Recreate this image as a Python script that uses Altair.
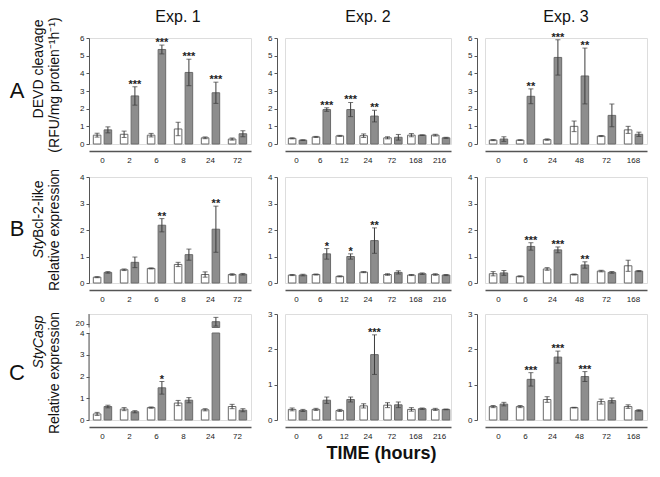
import altair as alt
import pandas as pd

FONT = "Liberation Sans"

# ---------------- data ----------------
# Row A : DEVD cleavage
A1_times = ["0", "2", "6", "8", "24", "72"]
A1_ctrl = [0.5, 0.55, 0.5, 0.85, 0.35, 0.28]
A1_ctrl_se = [0.11, 0.18, 0.1, 0.38, 0.05, 0.06]
A1_trt = [0.8, 2.72, 5.35, 4.05, 2.9, 0.58]
A1_trt_se = [0.17, 0.52, 0.25, 0.75, 0.6, 0.17]
A1_stars = ["", "***", "***", "***", "***", ""]

A2_times = ["0", "6", "12", "24", "72", "168", "216"]
A2_ctrl = [0.32, 0.4, 0.46, 0.47, 0.35, 0.5, 0.5]
A2_ctrl_se = [0.03, 0.03, 0.03, 0.1, 0.06, 0.09, 0.05]
A2_trt = [0.22, 1.95, 1.95, 1.58, 0.38, 0.5, 0.35]
A2_trt_se = [0.02, 0.1, 0.4, 0.33, 0.16, 0.02, 0.03]
A2_stars = ["", "***", "***", "**", "", "", ""]

A3_times = ["0", "6", "24", "48", "72", "168"]
A3_ctrl = [0.22, 0.22, 0.25, 1.0, 0.45, 0.8]
A3_ctrl_se = [0.03, 0.02, 0.04, 0.3, 0.03, 0.2]
A3_trt = [0.28, 2.7, 4.9, 3.85, 1.62, 0.55]
A3_trt_se = [0.13, 0.42, 1.0, 1.58, 0.64, 0.12]
A3_stars = ["", "**", "***", "**", "", ""]

# Row B : StyBcl-2-like
B1_times = ["0", "2", "6", "8", "24", "72"]
B1_ctrl = [0.22, 0.5, 0.55, 0.7, 0.32, 0.32]
B1_ctrl_se = [0.02, 0.03, 0.02, 0.08, 0.1, 0.03]
B1_trt = [0.4, 0.78, 2.18, 1.07, 2.03, 0.33]
B1_trt_se = [0.03, 0.2, 0.25, 0.21, 0.87, 0.03]
B1_stars = ["", "", "**", "", "**", ""]

B2_times = ["0", "6", "12", "24", "72", "168", "216"]
B2_ctrl = [0.3, 0.32, 0.25, 0.41, 0.32, 0.3, 0.32]
B2_ctrl_se = [0.02, 0.02, 0.02, 0.02, 0.03, 0.02, 0.03]
B2_trt = [0.3, 1.1, 1.0, 1.6, 0.4, 0.35, 0.3]
B2_trt_se = [0.03, 0.2, 0.1, 0.48, 0.06, 0.03, 0.02]
B2_stars = ["", "*", "*", "**", "", "", ""]

B3_times = ["0", "6", "24", "48", "72", "168"]
B3_ctrl = [0.35, 0.25, 0.53, 0.32, 0.45, 0.65]
B3_ctrl_se = [0.08, 0.02, 0.05, 0.02, 0.03, 0.21]
B3_trt = [0.38, 1.38, 1.25, 0.68, 0.4, 0.45]
B3_trt_se = [0.09, 0.14, 0.11, 0.12, 0.03, 0.02]
B3_stars = ["", "***", "***", "**", "", ""]

# Row C : StyCasp
C1_times = ["0", "2", "6", "8", "24", "72"]
C1_ctrl = [0.28, 0.5, 0.57, 0.78, 0.47, 0.62]
C1_ctrl_se = [0.07, 0.07, 0.03, 0.12, 0.05, 0.1]
C1_trt = [0.62, 0.38, 1.48, 0.91, 20.2, 0.45]
C1_trt_se = [0.06, 0.05, 0.29, 0.12, 0.45, 0.07]
C1_stars = ["", "", "*", "", "", ""]

C2_times = ["0", "6", "12", "24", "72", "168", "216"]
C2_ctrl = [0.3, 0.3, 0.27, 0.4, 0.42, 0.3, 0.3]
C2_ctrl_se = [0.04, 0.03, 0.03, 0.06, 0.07, 0.05, 0.03]
C2_trt = [0.27, 0.56, 0.58, 1.85, 0.43, 0.32, 0.3]
C2_trt_se = [0.03, 0.09, 0.07, 0.56, 0.08, 0.02, 0.01]
C2_stars = ["", "", "", "***", "", "", ""]

C3_times = ["0", "6", "24", "48", "72", "168"]
C3_ctrl = [0.38, 0.38, 0.58, 0.35, 0.52, 0.38]
C3_ctrl_se = [0.03, 0.03, 0.08, 0.01, 0.07, 0.05]
C3_trt = [0.45, 1.15, 1.78, 1.23, 0.55, 0.27]
C3_trt_se = [0.05, 0.19, 0.17, 0.14, 0.07, 0.02]
C3_stars = ["", "***", "***", "***", "", ""]

EXP_TITLES = ["Exp. 1", "Exp. 2", "Exp. 3"]
X_TITLE = "TIME (hours)"

# ---------------- styling ----------------
WIDTHS = [162, 166, 162]
H = 106
GREY = "#8d8d8d"
EDGE = "#6a6a6a"
AXC = "#555555"
TXT = "#222222"
BREAK_LOW, BREAK_HIGH, BROKEN_TOP = 4, 19.6, 21


def build_frames(times, ctrl, ctrl_se, trt, trt_se, stars, broken):
    bars, errs = [], []
    for i, t in enumerate(times):
        for grp, v, se in (("ctrl", ctrl[i], ctrl_se[i]), ("trt", trt[i], trt_se[i])):
            if broken and v > BREAK_LOW:
                bars.append(dict(time=t, grp=grp, y0=0, y1=BREAK_LOW))
                bars.append(dict(time=t, grp=grp, y0=BREAK_HIGH, y1=v))
            else:
                bars.append(dict(time=t, grp=grp, y0=0, y1=v))
            errs.append(dict(time=t, grp=grp, lo=max(v - se, BREAK_HIGH) if (broken and v > BREAK_LOW) else v - se,
                             hi=v + se, star=stars[i] if grp == "trt" else ""))
    return pd.DataFrame(bars), pd.DataFrame(errs)


def text_layer(text, x, y, size=14, align="center", style="normal", weight="normal",
               baseline="alphabetic", angle=270):
    return alt.Chart(pd.DataFrame({"t": [text]})).mark_text(
        angle=angle, align=align, baseline=baseline, fontSize=size, fontStyle=style,
        fontWeight=weight, font=FONT, color="#111111"
    ).encode(x=alt.value(x), y=alt.value(y), text="t:N")


def panel(times, ctrl, ctrl_se, trt, trt_se, stars, col, ymax=None, ticks=None,
          broken=False, title=None, xtitle=None, extra=None):
    W = WIDTHS[col]
    bars_df, err_df = build_frames(times, ctrl, ctrl_se, trt, trt_se, stars, broken)

    if broken:
        yscale = alt.Scale(domain=[0, BREAK_LOW, BREAK_HIGH, BROKEN_TOP],
                           range=[H, 19, 13.5, 0], nice=False, zero=False)
    else:
        yscale = alt.Scale(domain=[0, ymax], nice=False)

    xaxis_kw = dict(domain=True, domainColor=AXC, domainWidth=1.5, ticks=False,
                    labelAngle=0, labelFontSize=8, labelColor=TXT, labelPadding=5,
                    offset=7, labelFont=FONT)
    if xtitle:
        xaxis_kw.update(title=xtitle, titleFontSize=18, titleFontWeight="bold",
                        titleFont=FONT, titleColor="#111111", titlePadding=4,
                        titleX=W / 2 + 13)
    else:
        xaxis_kw.update(title=None)

    npad = 0.16 if len(times) == 6 else 0.14
    x = alt.X("time:N", sort=times,
              scale=alt.Scale(paddingInner=0.32, paddingOuter=npad),
              axis=alt.Axis(**xaxis_kw))
    xo = alt.XOffset("grp:N", sort=["ctrl", "trt"],
                     scale=alt.Scale(paddingInner=0.3, paddingOuter=0))

    yaxis = alt.Axis(values=ticks, tickCount=len(ticks), labelOverlap=False,
                     labelFontSize=8, labelColor=TXT,
                     labelFont=FONT, tickSize=3, tickColor=AXC, domainColor=AXC,
                     domain=not broken, grid=False, labelPadding=2,
                     offset=(0 if col == 0 else 8), title=None)

    bars = alt.Chart(bars_df).mark_bar(stroke=EDGE, strokeWidth=1).encode(
        x=x, xOffset=xo,
        y=alt.Y("y0:Q", scale=yscale, axis=yaxis),
        y2="y1:Q",
        fill=alt.Fill("grp:N", scale=alt.Scale(domain=["ctrl", "trt"],
                                               range=["#ffffff", GREY]), legend=None),
    )
    err = alt.Chart(err_df)
    rule = err.mark_rule(color="#3c3c3c", strokeWidth=1).encode(
        x=x, xOffset=xo, y=alt.Y("lo:Q", scale=yscale, axis=yaxis), y2="hi:Q")
    cap_hi = err.mark_tick(color="#3c3c3c", size=5, thickness=1).encode(
        x=x, xOffset=xo, y=alt.Y("hi:Q", scale=yscale, axis=yaxis))
    cap_lo = err.mark_tick(color="#3c3c3c", size=5, thickness=1).encode(
        x=x, xOffset=xo, y=alt.Y("lo:Q", scale=yscale, axis=yaxis))
    star = err.transform_filter(alt.datum.star != "").mark_text(
        fontSize=11, fontWeight="bold", font=FONT, color=TXT, baseline="alphabetic", dy=1
    ).encode(x=x, xOffset=xo, y=alt.Y("hi:Q", scale=yscale, axis=yaxis), text="star:N")

    layers = [bars, rule, cap_hi, cap_lo, star]
    if broken:
        seg = pd.DataFrame({"a": [0, BREAK_HIGH], "b": [BREAK_LOW, BROKEN_TOP]})
        layers.append(alt.Chart(seg).mark_rule(color=AXC, strokeWidth=1).encode(
            x=alt.value(0), y=alt.Y("a:Q", scale=yscale, axis=yaxis), y2="b:Q"))
    if title:
        layers.append(text_layer(title, W / 2 + (8 if col == 0 else 0), -29, size=16,
                                 angle=0, baseline="top"))
    if extra:
        layers.extend(extra)

    return alt.layer(*layers).properties(width=W, height=H)


rowA_labels = [
    text_layer("A", -72, 53, size=22, angle=0, baseline="middle"),
    text_layer("DEVD cleavage", -46, 31),
    text_layer("(RFU/mg protien\u207b\u00b9h\u207b\u00b9)", -30, 47),
]
rowB_labels = [
    text_layer("B", -72, 52, size=22, angle=0, baseline="middle"),
    text_layer("Sty", -46, 61, align="right", style="italic"),
    text_layer("Bcl-2-like", -46, 61, align="left"),
    text_layer("Relative expression", -30, 53),
]
rowC_labels = [
    text_layer("C", -72, 59, size=22, angle=0, baseline="middle"),
    text_layer("StyCasp", -46, 28, style="italic"),
    text_layer("Relative expression", -30, 59),
]

A1 = panel(A1_times, A1_ctrl, A1_ctrl_se, A1_trt, A1_trt_se, A1_stars, 0, 6, [0, 1, 2, 3, 4, 5, 6],
           title=EXP_TITLES[0], extra=rowA_labels)
A2 = panel(A2_times, A2_ctrl, A2_ctrl_se, A2_trt, A2_trt_se, A2_stars, 1, 6, [0, 1, 2, 3, 4, 5, 6],
           title=EXP_TITLES[1])
A3 = panel(A3_times, A3_ctrl, A3_ctrl_se, A3_trt, A3_trt_se, A3_stars, 2, 6, [0, 1, 2, 3, 4, 5, 6],
           title=EXP_TITLES[2])

B1 = panel(B1_times, B1_ctrl, B1_ctrl_se, B1_trt, B1_trt_se, B1_stars, 0, 4, [0, 1, 2, 3, 4],
           extra=rowB_labels)
B2 = panel(B2_times, B2_ctrl, B2_ctrl_se, B2_trt, B2_trt_se, B2_stars, 1, 4, [0, 1, 2, 3, 4])
B3 = panel(B3_times, B3_ctrl, B3_ctrl_se, B3_trt, B3_trt_se, B3_stars, 2, 4, [0, 1, 2, 3, 4])

C1 = panel(C1_times, C1_ctrl, C1_ctrl_se, C1_trt, C1_trt_se, C1_stars, 0, ticks=[0, 1, 2, 3, 4, 20],
           broken=True, extra=rowC_labels)
C2 = panel(C2_times, C2_ctrl, C2_ctrl_se, C2_trt, C2_trt_se, C2_stars, 1, 3, [0, 1, 2, 3],
           xtitle=X_TITLE)
C3 = panel(C3_times, C3_ctrl, C3_ctrl_se, C3_trt, C3_trt_se, C3_stars, 2, 3, [0, 1, 2, 3])

rowA = alt.hconcat(A1, A2, A3, spacing=15)
rowB = alt.hconcat(B1, B2, B3, spacing=15)
rowC = alt.hconcat(C1, C2, C3, spacing=15)

top = alt.vconcat(rowA, rowB, spacing=3)
chart = alt.vconcat(top, rowC, spacing=5).properties(padding=0).configure_view(
    strokeWidth=0).configure(font=FONT, background="white")

chart.save("out.html", embed_options={"renderer": "svg", "actions": False})
